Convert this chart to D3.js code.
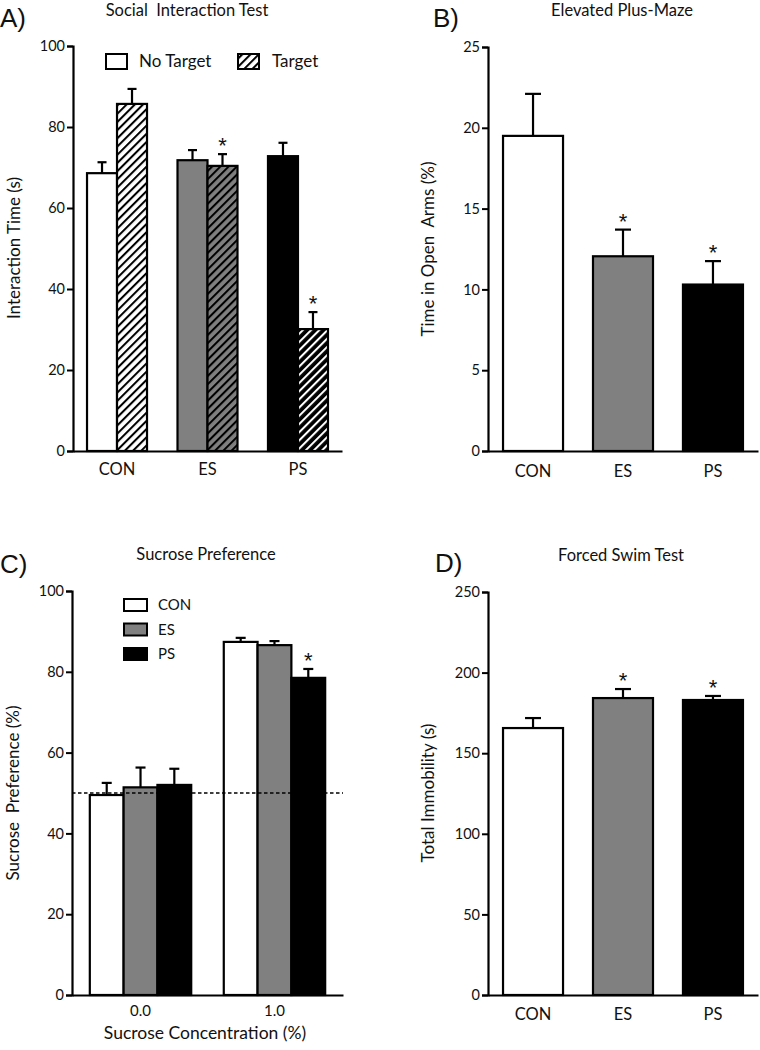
<!DOCTYPE html>
<html><head><meta charset="utf-8">
<script src="https://cdn.jsdelivr.net/npm/d3@7"></script>
<style>
html,body{margin:0;padding:0;background:#fff;}
text{font-family:Lato,"Open Sans",sans-serif;fill:#111;}
.letter{font-family:"Liberation Sans",Arial,sans-serif;}
.star{font-family:"Liberation Sans",Arial,sans-serif;}
</style></head>
<body><svg id="chart" width="760" height="1050"></svg>
<script>
// ---------- DATA ----------
const groups = ["CON", "ES", "PS"];
const groupColors = ["#ffffff", "#808080", "#000000"];

// A) Social Interaction Test
const aSeries = ["No Target", "Target"];
const aNoTarget = [68.6, 71.8, 72.8];
const aNoTargetErr = [2.7, 2.5, 3.3];
const aTarget = [85.7, 70.4, 30.1];
const aTargetErr = [3.7, 2.9, 4.2];
const aTargetSig = [false, true, true];
const aTicks = [0, 20, 40, 60, 80, 100];

// B) Elevated Plus-Maze
const bValues = [19.5, 12.05, 10.3];
const bErr = [2.6, 1.65, 1.45];
const bSig = [false, true, true];
const bTicks = [0, 5, 10, 15, 20, 25];

// C) Sucrose Preference
const cConcentrations = ["0.0", "1.0"];
const cCON = [49.5, 87.4];
const cCONErr = [3.0, 1.0];
const cES = [51.4, 86.6];
const cESErr = [4.9, 1.0];
const cPS = [52.0, 78.5];
const cPSErr = [4.0, 2.2];
const cPSSig = [false, true];
const cReference = 50;
const cTicks = [0, 20, 40, 60, 80, 100];

// D) Forced Swim Test
const dValues = [165.6, 184.2, 183.0];
const dErr = [6.2, 5.6, 2.5];
const dSig = [false, true, true];
const dTicks = [0, 50, 100, 150, 200, 250];

// ---------- DRAWING ----------
const svg = d3.select("#chart");
const defs = svg.append("defs");
function hatch(id, bg, fg) {
  const p = defs.append("pattern").attr("id", id)
    .attr("patternUnits", "userSpaceOnUse")
    .attr("width", 5.8).attr("height", 5.8)
    .attr("patternTransform", "rotate(45)");
  p.append("rect").attr("width", 5.8).attr("height", 5.8).attr("fill", bg);
  p.append("line").attr("x1", 1).attr("y1", 0).attr("x2", 1).attr("y2", 5.8)
    .attr("stroke", fg).attr("stroke-width", 2.1);
}
hatch("h0", "#ffffff", "#000000");
hatch("h1", "#808080", "#000000");
hatch("h2", "#000000", "#ffffff");
hatch("hLegend", "#ffffff", "#000000");

function yAxis(g, y, x0, ticks) {
  const ax = g.append("g").attr("transform", `translate(${x0},0)`)
    .call(d3.axisLeft(y).tickValues(ticks).tickSize(6).tickPadding(2).tickFormat(d3.format("d")));
  ax.select(".domain").attr("stroke", "#000").attr("stroke-width", 2.2);
  ax.selectAll(".tick line").attr("stroke", "#000").attr("stroke-width", 2);
  ax.selectAll(".tick text").style("font-family", "Lato").style("font-size", "14.5px").attr("fill", "#111");
}
function xAxis(g, x, y0, labelDy, fs) {
  const ax = g.append("g").attr("transform", `translate(0,${y0})`)
    .call(d3.axisBottom(x).tickSize(0).tickPadding(labelDy));
  ax.select(".domain").attr("stroke", "#000").attr("stroke-width", 2.2);
  ax.selectAll(".tick text").style("font-family", "Lato").style("font-size", fs + "px").attr("fill", "#111");
}
function bar(g, x, w, y, v, fill) {
  g.append("rect").attr("x", x).attr("y", y(v)).attr("width", w)
    .attr("height", y(0) - y(v)).attr("fill", fill)
    .attr("stroke", "#000").attr("stroke-width", 2.2);
}
function errBar(g, cx, y, v, e, cap) {
  g.append("line").attr("x1", cx).attr("x2", cx).attr("y1", y(v)).attr("y2", y(v + e))
    .attr("stroke", "#000").attr("stroke-width", 2.2);
  g.append("line").attr("x1", cx - cap / 2).attr("x2", cx + cap / 2).attr("y1", y(v + e)).attr("y2", y(v + e))
    .attr("stroke", "#000").attr("stroke-width", 2.2);
}
function star(g, cx, yErrTop) {
  g.append("text").attr("class", "star").attr("x", cx).attr("y", yErrTop - 1).attr("text-anchor", "middle")
    .style("font-size", "22px").text("*");
}
function titleText(x, y, t) {
  svg.append("text").attr("x", x).attr("y", y).attr("text-anchor", "middle")
    .style("font-size", "16.5px").style("white-space", "pre").text(t);
}
function letter(x, y, t) {
  svg.append("text").attr("class", "letter").attr("x", x).attr("y", y)
    .style("font-size", "26px").text(t);
}
function yLabel(x, y, t) {
  svg.append("text").attr("transform", `translate(${x},${y}) rotate(-90)`)
    .attr("text-anchor", "middle").attr("dominant-baseline", "central")
    .style("font-size", "17px").style("white-space", "pre").text(t);
}

// ----- Panel A -----
{
  const g = svg.append("g");
  const y = d3.scaleLinear().domain([0, 100]).range([451, 46]);
  const x = d3.scaleBand().domain(groups).range([73, 342]).paddingInner(0.337).paddingOuter(0.155);
  const xs = d3.scaleBand().domain(aSeries).range([0, x.bandwidth()]);
  groups.forEach((grp, i) => {
    const x0 = x(grp) + xs("No Target"), x1 = x(grp) + xs("Target"), w = xs.bandwidth();
    bar(g, x0, w, y, aNoTarget[i], groupColors[i]);
    bar(g, x1, w, y, aTarget[i], `url(#h${i})`);
    errBar(g, x0 + w / 2, y, aNoTarget[i], aNoTargetErr[i], 9);
    errBar(g, x1 + w / 2, y, aTarget[i], aTargetErr[i], 9);
    if (aTargetSig[i]) star(g, x1 + w / 2, y(aTarget[i] + aTargetErr[i]));
  });
  xAxis(g, x, 451, 12, 16.5);
  yAxis(g, y, 73, aTicks);
  // legend
  const lg = svg.append("g");
  lg.append("rect").attr("x", 106).attr("y", 54).attr("width", 21).attr("height", 15)
    .attr("fill", "#fff").attr("stroke", "#000").attr("stroke-width", 2);
  lg.append("text").attr("x", 139).attr("y", 67).style("font-size", "17px").text(aSeries[0]);
  lg.append("rect").attr("x", 238).attr("y", 54).attr("width", 21).attr("height", 15)
    .attr("fill", "url(#hLegend)").attr("stroke", "#000").attr("stroke-width", 2);
  lg.append("text").attr("x", 272).attr("y", 67).style("font-size", "17px").text(aSeries[1]);
  titleText(187, 16, "Social  Interaction Test");
  letter(0, 27, "A)");
  yLabel(13, 248, "Interaction Time (s)");
}

// ----- Panel B -----
{
  const g = svg.append("g");
  const y = d3.scaleLinear().domain([0, 25]).range([451, 47]);
  const x = d3.scaleBand().domain(groups).range([488, 758]).paddingInner(0.333).paddingOuter(0.167);
  groups.forEach((grp, i) => {
    bar(g, x(grp), x.bandwidth(), y, bValues[i], groupColors[i]);
    errBar(g, x(grp) + x.bandwidth() / 2, y, bValues[i], bErr[i], 16);
    if (bSig[i]) star(g, x(grp) + x.bandwidth() / 2, y(bValues[i] + bErr[i]));
  });
  xAxis(g, x, 451, 14, 16.5);
  yAxis(g, y, 488, bTicks);
  titleText(622, 16, "Elevated Plus-Maze");
  letter(433, 27, "B)");
  yLabel(427, 249, "Time in Open  Arms (%)");
}

// ----- Panel C -----
{
  const g = svg.append("g");
  const y = d3.scaleLinear().domain([0, 100]).range([995, 591]);
  const x = d3.scaleBand().domain(cConcentrations).range([72, 343]).paddingInner(0.243).paddingOuter(0.133);
  const xs = d3.scaleBand().domain(groups).range([0, x.bandwidth()]);
  const vals = [cCON, cES, cPS], errs = [cCONErr, cESErr, cPSErr];
  cConcentrations.forEach((c, j) => {
    groups.forEach((grp, i) => {
      const bx = x(c) + xs(grp), w = xs.bandwidth();
      bar(g, bx, w, y, vals[i][j], groupColors[i]);
      errBar(g, bx + w / 2, y, vals[i][j], errs[i][j], 10);
    });
    if (cPSSig[j]) star(g, x(c) + xs("PS") + xs.bandwidth() / 2, y(cPS[j] + cPSErr[j]));
  });
  g.append("line").attr("x1", 72).attr("x2", 343).attr("y1", y(cReference)).attr("y2", y(cReference))
    .attr("stroke", "#000").attr("stroke-width", 1.6).attr("stroke-dasharray", "3.5,2.5");
  xAxis(g, x, 995, 10, 15);
  yAxis(g, y, 72, cTicks);
  const lg = svg.append("g");
  groups.forEach((grp, i) => {
    lg.append("rect").attr("x", 124).attr("y", 599 + i * 24.5).attr("width", 23).attr("height", 12)
      .attr("fill", groupColors[i]).attr("stroke", "#000").attr("stroke-width", 2);
    lg.append("text").attr("x", 158).attr("y", 610 + i * 24.5).style("font-size", "15px").text(grp);
  });
  svg.append("text").attr("x", 205).attr("y", 1039).attr("text-anchor", "middle")
    .style("font-size", "17.5px").text("Sucrose Concentration (%)");
  titleText(206, 560, "Sucrose Preference");
  letter(0, 573, "C)");
  yLabel(12, 793, "Sucrose  Preference (%)");
}

// ----- Panel D -----
{
  const g = svg.append("g");
  const y = d3.scaleLinear().domain([0, 250]).range([995, 592]);
  const x = d3.scaleBand().domain(groups).range([488, 758]).paddingInner(0.333).paddingOuter(0.167);
  groups.forEach((grp, i) => {
    bar(g, x(grp), x.bandwidth(), y, dValues[i], groupColors[i]);
    errBar(g, x(grp) + x.bandwidth() / 2, y, dValues[i], dErr[i], 16);
    if (dSig[i]) star(g, x(grp) + x.bandwidth() / 2, y(dValues[i] + dErr[i]));
  });
  xAxis(g, x, 995, 13, 16.5);
  yAxis(g, y, 488, dTicks);
  titleText(621, 561, "Forced Swim Test");
  letter(435, 572, "D)");
  yLabel(427, 793, "Total Immobility (s)");
}
</script></body></html>
